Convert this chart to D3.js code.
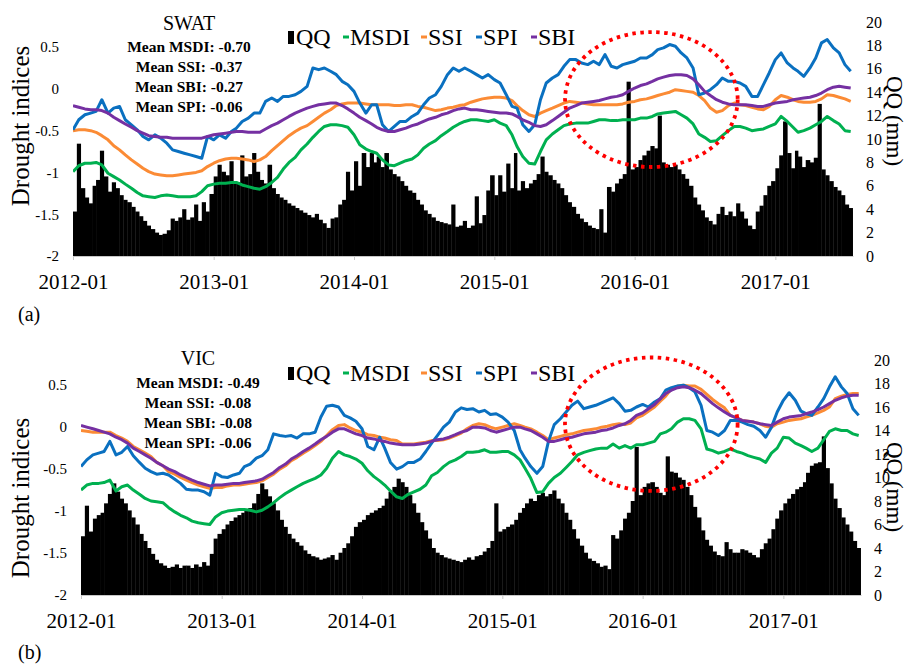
<!DOCTYPE html>
<html>
<head>
<meta charset="utf-8">
<script src="https://cdn.jsdelivr.net/npm/d3@7"></script>
<style>
  body { margin: 0; background: #fff; }
  svg { display: block; }
  text { font-family: "Liberation Serif", "Times New Roman", serif; fill: #000; }
</style>
</head>
<body>
<svg id="chart" width="911" height="665"></svg>
<script>
// ---- sampling dates -------------------------------------------------------
// drought indices: 1st and 16th of each month, Jan 2012 – Jul 2017
const lineDates = d3.range(134).map(i => new Date(2012, Math.floor(i / 2), i % 2 ? 16 : 1));
// discharge (QQ): dekads starting on the 1st, 11th and 21st of each month
const barDates = d3.range(201).map(i => new Date(2012, Math.floor(i / 3), 1 + 10 * (i % 3)));
const startDate = new Date(2012, 0, 1);
const endDate = new Date(2017, 6, 22);

// ---- axis ticks -------------------------------------------------------------
const yearTicks = ["2012-01", "2013-01", "2014-01", "2015-01", "2016-01", "2017-01"];
const indexTicks = [-2, -1.5, -1, -0.5, 0, 0.5];
const qqTicks = [0, 2, 4, 6, 8, 10, 12, 14, 16, 18, 20];

// ---- legend -------------------------------------------------------------------
const seriesNames = ["QQ", "MSDI", "SSI", "SPI", "SBI"];
const seriesColors = ["#000000", "#00B050", "#FB8B35", "#0A70C0", "#7530A2"];

// ---- SWAT ---------------------------------------------------------------------
const swatMeans = ["Mean MSDI: -0.70", "Mean SSI: -0.37", "Mean SBI: -0.27", "Mean SPI: -0.06"];

const swatQQ = [
  3.8, 9.6, 5.8,  5.0, 4.5, 6.0,  6.5, 9.0, 6.8,  5.5, 6.3, 5.8,  5.2, 4.8, 4.6,  4.2, 3.8, 3.4,
  3.0, 2.6, 2.3,  2.0, 1.8, 1.9,  2.2, 3.2, 3.0,  3.3, 4.0, 3.1,  3.3, 4.4, 3.0,  4.6, 3.8, 5.3,
  6.8, 7.8, 7.2,  6.9, 8.1, 6.4,  6.3, 8.6, 6.8,  7.0, 8.8, 7.2,  6.5, 6.2, 7.8,  5.8, 5.3, 5.0,
  4.8, 4.5, 4.3,  4.1, 3.9, 3.7,  3.5, 3.3, 3.6,  3.1, 2.8, 2.4,  3.2, 3.3, 4.4,  4.8, 7.2, 5.6,
  8.1, 6.0, 8.8,  7.6, 8.8, 8.0,  8.5, 7.6, 8.8,  7.4, 7.0, 6.8,  6.4, 6.0, 5.6,  5.4, 4.8, 4.4,
  3.9, 3.6, 3.3,  3.0, 2.9, 2.8,  2.7, 4.4, 2.5,  2.6, 3.0, 2.4,  2.6, 5.1, 2.8,  3.5, 5.6, 6.9,
  5.2, 6.9, 5.5,  7.9, 5.8, 8.8,  5.6, 6.4, 5.8,  6.2, 6.5, 7.0,  8.5, 7.2, 6.9,  6.5, 6.2, 5.8,
  5.2, 4.6, 4.2,  3.6, 3.2, 2.9,  2.6, 2.4, 2.3,  4.0, 2.0, 5.9,  5.5, 6.2, 6.6,  7.0, 14.9, 7.4,
  7.6, 8.2, 8.6,  9.0, 9.4, 9.2,  12.0, 8.0, 7.8, 7.6, 7.8, 7.4,  7.0, 6.6, 6.0,  5.0, 4.4, 3.9,
  3.3, 3.0, 2.7,  3.6, 4.2, 3.5,  3.8, 3.4, 4.5,  3.8, 3.2, 2.6,  2.3, 3.8, 4.3,  5.2, 6.0, 6.4,
  7.5, 8.6, 11.5, 8.8, 7.5, 9.0,  8.5, 7.6, 8.2,  8.0, 8.4, 13.0, 7.4, 6.9, 6.4,  5.9, 5.6, 5.2,
  4.4, 4.1, 3.8
];

const swatMSDI = [
  -0.99, -0.92, -0.89, -0.89, -0.88, -0.91, -1.01, -1.05, -1.09, -1.14,
  -1.19, -1.24, -1.28, -1.29, -1.30, -1.28, -1.27, -1.28, -1.29, -1.29,
  -1.29, -1.28, -1.23, -1.16, -1.14, -1.13, -1.13, -1.12, -1.12, -1.15,
  -1.17, -1.19, -1.20, -1.17, -1.12, -1.06, -0.96, -0.88, -0.82, -0.73,
  -0.66, -0.58, -0.51, -0.45, -0.43, -0.43, -0.44, -0.46, -0.55, -0.67,
  -0.72, -0.75, -0.77, -0.85, -0.91, -0.92, -0.89, -0.86, -0.84, -0.79,
  -0.71, -0.66, -0.62, -0.56, -0.51, -0.46, -0.42, -0.39, -0.37, -0.37,
  -0.38, -0.39, -0.37, -0.41, -0.44, -0.55, -0.69, -0.81, -0.89, -0.90,
  -0.75, -0.61, -0.54, -0.49, -0.44, -0.42, -0.41, -0.41, -0.41, -0.39,
  -0.37, -0.37, -0.38, -0.38, -0.37, -0.37, -0.37, -0.35, -0.35, -0.33,
  -0.30, -0.29, -0.28, -0.27, -0.31, -0.35, -0.42, -0.54, -0.58, -0.63,
  -0.62, -0.56, -0.50, -0.45, -0.45, -0.47, -0.50, -0.49, -0.48, -0.45,
  -0.42, -0.33, -0.39, -0.46, -0.52, -0.50, -0.47, -0.43, -0.39, -0.33,
  -0.38, -0.42, -0.50, -0.51
];

const swatSSI = [
  -0.50, -0.49, -0.49, -0.50, -0.52, -0.56, -0.61, -0.68, -0.73, -0.79,
  -0.85, -0.90, -0.95, -0.99, -1.02, -1.03, -1.04, -1.04, -1.03, -1.02,
  -1.01, -1.00, -0.98, -0.93, -0.89, -0.86, -0.84, -0.83, -0.83, -0.84,
  -0.85, -0.87, -0.85, -0.81, -0.74, -0.68, -0.62, -0.56, -0.51, -0.47,
  -0.44, -0.39, -0.34, -0.29, -0.25, -0.20, -0.18, -0.17, -0.17, -0.17,
  -0.18, -0.19, -0.19, -0.19, -0.19, -0.20, -0.20, -0.19, -0.19, -0.21,
  -0.22, -0.24, -0.26, -0.25, -0.23, -0.22, -0.20, -0.19, -0.16, -0.14,
  -0.12, -0.11, -0.10, -0.10, -0.11, -0.14, -0.20, -0.26, -0.31, -0.33,
  -0.29, -0.26, -0.23, -0.20, -0.17, -0.15, -0.16, -0.17, -0.18, -0.19,
  -0.19, -0.19, -0.19, -0.19, -0.18, -0.16, -0.15, -0.13, -0.12, -0.10,
  -0.08, -0.06, -0.04, -0.01, -0.02, -0.03, -0.04, -0.08, -0.14, -0.23,
  -0.28, -0.26, -0.20, -0.17, -0.19, -0.20, -0.22, -0.24, -0.25, -0.21,
  -0.13, -0.08, -0.10, -0.13, -0.15, -0.16, -0.16, -0.15, -0.12, -0.07,
  -0.08, -0.10, -0.12, -0.15
];

const swatSPI = [
  -0.49, -0.37, -0.31, -0.29, -0.27, -0.13, -0.29, -0.23, -0.21, -0.37,
  -0.43, -0.49, -0.57, -0.61, -0.55, -0.59, -0.65, -0.73, -0.75, -0.77,
  -0.79, -0.81, -0.83, -0.57, -0.61, -0.55, -0.59, -0.51, -0.47, -0.39,
  -0.35, -0.29, -0.29, -0.15, -0.11, -0.15, -0.09, -0.09, -0.07, -0.03,
   0.03,  0.25,  0.23,  0.25,  0.21,  0.17,  0.09,  0.05, -0.03, -0.17,
  -0.29, -0.19, -0.19, -0.43, -0.51, -0.45, -0.39, -0.39, -0.33, -0.29,
  -0.19, -0.11, -0.07,  0.03,  0.17,  0.25,  0.21,  0.25,  0.21,  0.17,
   0.13,  0.17,  0.11,  0.07, -0.07, -0.21, -0.23, -0.43, -0.51, -0.43,
  -0.13,  0.07,  0.13,  0.17,  0.27,  0.35,  0.35,  0.31,  0.29,  0.33,
   0.29,  0.41,  0.27,  0.25,  0.29,  0.31,  0.33,  0.37,  0.37,  0.41,
   0.47,  0.49,  0.53,  0.51,  0.43,  0.37,  0.25, -0.07, -0.05, -0.01,
   0.05,  0.13,  0.09,  0.09,  0.07,  0.03, -0.09, -0.09,  0.05,  0.19,
   0.35,  0.43,  0.31,  0.25,  0.21,  0.15,  0.25,  0.37,  0.55,  0.59,
   0.49,  0.43,  0.29,  0.21
];

const swatSBI = [
  -0.20, -0.22, -0.24, -0.25, -0.25, -0.26, -0.29, -0.34, -0.38, -0.42,
  -0.46, -0.50, -0.53, -0.56, -0.57, -0.58, -0.58, -0.59, -0.59, -0.59,
  -0.59, -0.59, -0.59, -0.57, -0.55, -0.54, -0.53, -0.52, -0.51, -0.51,
  -0.52, -0.52, -0.52, -0.48, -0.44, -0.41, -0.37, -0.33, -0.29, -0.26,
  -0.23, -0.21, -0.19, -0.18, -0.17, -0.17, -0.20, -0.24, -0.29, -0.34,
  -0.38, -0.42, -0.46, -0.49, -0.51, -0.51, -0.49, -0.47, -0.44, -0.42,
  -0.39, -0.36, -0.34, -0.31, -0.29, -0.26, -0.24, -0.23, -0.25, -0.25,
  -0.26, -0.27, -0.28, -0.29, -0.29, -0.30, -0.33, -0.37, -0.40, -0.44,
  -0.45, -0.43, -0.38, -0.33, -0.28, -0.23, -0.20, -0.17, -0.16, -0.15,
  -0.14, -0.12, -0.10, -0.09, -0.07, -0.03,  0.01,  0.04,  0.06,  0.09,
   0.12,  0.14,  0.16,  0.17,  0.17,  0.16,  0.12,  0.05, -0.03, -0.08,
  -0.13, -0.16, -0.18, -0.19, -0.19, -0.19, -0.20, -0.21, -0.21, -0.19,
  -0.17, -0.16, -0.15, -0.13, -0.12, -0.11, -0.10, -0.08, -0.05, -0.01,
   0.02,  0.03,  0.02,  0.01
];

// ---- VIC ----------------------------------------------------------------------
const vicMeans = ["Mean MSDI: -0.49", "Mean SSI: -0.08", "Mean SBI: -0.08", "Mean SPI: -0.06"];

const vicQQ = [
  5.0, 7.6, 5.4,  6.5, 6.8, 7.0,  7.8, 8.6, 9.5,  8.8, 8.2, 7.8,  7.2, 6.6, 6.0,  5.2, 4.6, 4.0,
  3.5, 3.0, 2.7,  2.5, 2.3, 2.4,  2.6, 2.3, 2.5,  2.5, 2.3, 2.6,  2.4, 2.8, 2.5,  3.5, 4.8, 5.2,
  5.6, 6.0, 6.3,  6.6, 6.8, 7.0,  7.2, 7.4, 7.8,  8.6, 9.5, 9.0,  8.4, 7.8, 7.2,  6.4, 5.8, 5.2,
  4.8, 4.5, 4.2,  3.8, 3.5, 3.3,  3.2, 3.0, 3.1,  3.2, 3.4, 3.0,  3.6, 4.0, 4.4,  5.0, 5.8, 6.2,
  6.4, 6.8, 7.0,  7.2, 7.4, 7.6,  8.2, 8.8, 9.2,  9.9, 9.6, 9.2,  8.5, 7.8, 7.0,  6.2, 5.5, 4.8,
  4.0, 3.6, 3.4,  3.2, 3.1, 3.0,  2.9, 2.8, 3.0,  3.2, 3.0, 3.3,  3.4, 3.7, 4.0,  4.6, 7.8, 5.4,
  5.6, 5.8, 6.0,  6.4, 7.0, 7.4,  7.8, 8.2, 8.0,  8.5, 8.7, 8.4,  8.6, 8.9, 8.2,  7.8, 7.0, 6.4,
  5.6, 4.8, 4.2,  3.6, 3.1, 2.9,  2.7, 2.4, 2.5,  2.2, 5.1, 4.8,  5.5, 6.5, 7.0,  8.0, 12.6, 8.5,
  9.2, 9.5, 9.6,  9.2, 8.7, 8.5,  11.8, 10.5, 10.4, 10.0, 9.8, 9.2, 8.5, 7.5, 6.6,  5.5, 4.7, 4.2,
  3.7, 3.4, 3.3,  4.5, 3.9, 3.6,  3.6, 3.9, 3.8,  3.6, 3.4, 3.2,  3.9, 4.4, 4.8,  5.6, 6.5, 7.2,
  7.8, 8.2, 8.6,  9.0, 9.2, 9.6,  10.4, 11.0, 11.2, 11.3, 13.5, 10.8, 9.5, 8.2, 7.4, 6.6, 6.0, 5.4,
  4.6, 4.0, 3.0
];

const vicMSDI = [
  -0.75, -0.69, -0.67, -0.67, -0.66, -0.63, -0.76, -0.71, -0.69, -0.75,
  -0.80, -0.85, -0.88, -0.89, -0.90, -0.96, -1.01, -1.05, -1.08, -1.12,
  -1.14, -1.15, -1.16, -1.07, -1.02, -1.00, -0.99, -0.98, -0.98, -0.99,
  -1.01, -0.99, -0.95, -0.90, -0.84, -0.79, -0.75, -0.71, -0.67, -0.64,
  -0.61, -0.57, -0.49, -0.37, -0.29, -0.33, -0.35, -0.38, -0.43, -0.52,
  -0.59, -0.64, -0.69, -0.76, -0.83, -0.85, -0.80, -0.77, -0.74, -0.69,
  -0.58, -0.54, -0.47, -0.42, -0.39, -0.35, -0.30, -0.30, -0.29, -0.27,
  -0.30, -0.30, -0.29, -0.29, -0.33, -0.39, -0.49, -0.61, -0.78, -0.77,
  -0.67, -0.60, -0.55, -0.48, -0.41, -0.33, -0.30, -0.28, -0.26, -0.25,
  -0.25, -0.20, -0.25, -0.22, -0.25, -0.21, -0.21, -0.19, -0.17, -0.08,
  -0.06, -0.02,  0.06,  0.10,  0.10,  0.08, -0.02, -0.26, -0.28, -0.31,
  -0.29, -0.26, -0.29, -0.31, -0.34, -0.36, -0.38, -0.42, -0.31, -0.25,
  -0.12, -0.13, -0.19, -0.22, -0.25, -0.29, -0.25, -0.15, -0.05, -0.02,
  -0.04, -0.04, -0.08, -0.10
];

const vicSSI = [
  -0.04, -0.05, -0.06, -0.06, -0.06, -0.06, -0.10, -0.13, -0.17, -0.23,
  -0.27, -0.31, -0.35, -0.42, -0.46, -0.53, -0.56, -0.60, -0.63, -0.66,
  -0.69, -0.71, -0.73, -0.72, -0.72, -0.70, -0.69, -0.69, -0.68, -0.67,
  -0.66, -0.64, -0.60, -0.56, -0.50, -0.46, -0.40, -0.36, -0.31, -0.27,
  -0.22, -0.17, -0.10, -0.03,  0.02,  0.03, -0.01, -0.04, -0.06, -0.09,
  -0.10, -0.12, -0.13, -0.15, -0.16, -0.20, -0.20, -0.20, -0.19, -0.18,
  -0.16, -0.16, -0.15, -0.13, -0.10, -0.07, -0.02,  0.02,  0.04,  0.03,
   0.00, -0.02,  0.00,  0.02,  0.04,  0.02,  0.00, -0.02, -0.06, -0.10,
  -0.15, -0.13, -0.11, -0.09, -0.08, -0.06, -0.04, -0.03, -0.02,  0.00,
   0.01,  0.03,  0.04,  0.03,  0.05,  0.11,  0.14,  0.19,  0.24,  0.31,
   0.37,  0.46,  0.49,  0.50,  0.49,  0.49,  0.45,  0.39,  0.33,  0.28,
   0.23,  0.14,  0.11,  0.08,  0.07,  0.06,  0.04,  0.01,  0.00,  0.04,
   0.06,  0.08,  0.09,  0.10,  0.12,  0.14,  0.17,  0.20,  0.24,  0.34,
   0.37,  0.39,  0.40,  0.40
];

const vicSPI = [
  -0.47, -0.39, -0.33, -0.31, -0.29, -0.17, -0.33, -0.30, -0.23, -0.34,
  -0.42, -0.49, -0.53, -0.56, -0.55, -0.57, -0.62, -0.67, -0.74, -0.75,
  -0.75, -0.77, -0.81, -0.55, -0.59, -0.60, -0.57, -0.55, -0.47, -0.44,
  -0.37, -0.34, -0.27, -0.08, -0.10, -0.11, -0.10, -0.13, -0.08, -0.08,
  -0.06,  0.12,  0.25,  0.26,  0.24,  0.14,  0.11,  0.07, -0.02, -0.23,
  -0.27, -0.12, -0.25, -0.42, -0.50, -0.47, -0.42, -0.42, -0.38, -0.29,
  -0.19, -0.10,  0.00,  0.06,  0.18,  0.23,  0.21,  0.22,  0.18,  0.20,
   0.15,  0.16,  0.12,  0.06, -0.04, -0.27, -0.37, -0.47, -0.55, -0.47,
  -0.17,  0.03,  0.10,  0.18,  0.26,  0.31,  0.22,  0.24,  0.26,  0.29,
   0.32,  0.35,  0.28,  0.19,  0.20,  0.24,  0.27,  0.24,  0.30,  0.34,
   0.44,  0.47,  0.49,  0.50,  0.47,  0.42,  0.26, -0.04, -0.06, -0.10,
  -0.04,  0.08,  0.08,  0.06,  0.03,  0.01, -0.04, -0.12,  0.00,  0.18,
   0.32,  0.41,  0.32,  0.19,  0.16,  0.14,  0.24,  0.34,  0.48,  0.60,
   0.48,  0.40,  0.22,  0.14
];

const vicSBI = [
   0.02,  0.00, -0.02, -0.04, -0.06, -0.08, -0.12, -0.15, -0.19, -0.25,
  -0.29, -0.33, -0.37, -0.42, -0.46, -0.50, -0.53, -0.57, -0.60, -0.63,
  -0.66, -0.68, -0.70, -0.69, -0.69, -0.68, -0.67, -0.67, -0.66, -0.65,
  -0.64, -0.62, -0.58, -0.54, -0.48, -0.44, -0.38, -0.34, -0.29, -0.25,
  -0.20, -0.15, -0.11, -0.06, -0.02, -0.02, -0.05, -0.08, -0.10, -0.13,
  -0.14, -0.16, -0.17, -0.19, -0.20, -0.21, -0.21, -0.21, -0.20, -0.19,
  -0.17, -0.15, -0.14, -0.12, -0.09, -0.06, -0.04,  0.00,  0.00, -0.01,
  -0.04, -0.06, -0.04, -0.02,  0.00,  0.00, -0.02, -0.04, -0.08, -0.12,
  -0.17, -0.17, -0.15, -0.13, -0.12, -0.10, -0.08, -0.07, -0.06, -0.04,
  -0.03, -0.01,  0.02,  0.04,  0.08,  0.14,  0.17,  0.22,  0.27,  0.34,
   0.40,  0.44,  0.47,  0.48,  0.47,  0.44,  0.40,  0.34,  0.28,  0.23,
   0.18,  0.14,  0.11,  0.08,  0.07,  0.06,  0.04,  0.03,  0.02,  0.06,
   0.10,  0.12,  0.13,  0.14,  0.16,  0.18,  0.21,  0.24,  0.28,  0.32,
   0.35,  0.37,  0.38,  0.38
];

// highlighted period (dotted ellipse): [start, end] dates and [top, bottom] index values
const swatHighlight = { start: "2015-07-04", end: "2016-09-25", top: 0.68, bottom: -0.935 };
const vicHighlight  = { start: "2015-06-13", end: "2016-09-04", top: 0.83, bottom: -0.76 };

// ---- panel layout -------------------------------------------------------------
const panels = [
  { model: "SWAT", tag: "(a)", means: swatMeans, qq: swatQQ,
    series: [swatMSDI, swatSSI, swatSPI, swatSBI], hl: swatHighlight,
    x0: 73, x1: 853, yTop: 22, yBot: 256,
    titleX: 189, titleY: 30, meanY: 52, legendY: 45, tagY: 321,
    leftTitleY: 126, rightTitleY: 121 },
  { model: "VIC", tag: "(b)", means: vicMeans, qq: vicQQ,
    series: [vicMSDI, vicSSI, vicSPI, vicSBI], hl: vicHighlight,
    x0: 81, x1: 861, yTop: 360, yBot: 595,
    titleX: 198, titleY: 365, meanY: 388, legendY: 381, tagY: 659,
    leftTitleY: 498, rightTitleY: 487 }
];

const svg = d3.select("#chart");
const parseYM = d3.timeParse("%Y-%m");
const parseDay = d3.timeParse("%Y-%m-%d");

// strip d3's default axis font so the page serif face applies
function plainAxis(sel, size) {
  sel.attr("font-family", null).attr("font-size", null);
  sel.selectAll(".tick text").style("font-size", size + "px");
}

panels.forEach((p, pi) => {
  const g = svg.append("g");

  const x = d3.scaleTime().domain([startDate, endDate]).range([p.x0, p.x1]);
  const yL = d3.scaleLinear().domain([-2, 0.8]).range([p.yBot, p.yTop]);
  const yR = d3.scaleLinear().domain([0, 20]).range([p.yBot, p.yTop]);

  const clipId = "plot-clip-" + pi;
  svg.append("clipPath").attr("id", clipId)
    .append("rect").attr("x", p.x0).attr("y", p.yTop - 20)
    .attr("width", p.x1 - p.x0).attr("height", p.yBot - p.yTop + 20);

  // QQ bars on the secondary axis
  g.append("g").attr("clip-path", `url(#${clipId})`)
    .selectAll("rect").data(p.qq).join("rect")
    .attr("x", (d, i) => x(barDates[i]))
    .attr("width", (d, i) => {
      const next = i + 1 < barDates.length ? barDates[i + 1] : d3.timeDay.offset(barDates[i], 11);
      return x(next) - x(barDates[i]) + 0.35;
    })
    .attr("y", d => yR(d))
    .attr("height", d => yR(0) - yR(d))
    .attr("fill", "#000");

  // x axis
  const xAxis = d3.axisBottom(x)
    .tickValues(yearTicks.map(parseYM))
    .tickFormat(d3.timeFormat("%Y-%m"))
    .tickSize(4).tickSizeOuter(0);
  const gx = g.append("g").attr("transform", `translate(0,${p.yBot})`).call(xAxis);
  plainAxis(gx, 21);
  gx.select(".domain").attr("stroke", "#c8c8c8").attr("stroke-width", 1.2);
  gx.selectAll(".tick line").attr("stroke", "#c8c8c8");
  gx.selectAll(".tick text").attr("dy", null).attr("y", 33);

  // left axis (drought indices)
  const gl = g.append("g").attr("transform", `translate(${p.x0},0)`)
    .call(d3.axisLeft(yL).tickValues(indexTicks).tickFormat(d => String(d)).tickSize(0).tickPadding(14));
  plainAxis(gl, 15);
  gl.select(".domain").remove();

  // right axis (QQ)
  const gr = g.append("g").attr("transform", `translate(${p.x1},0)`)
    .call(d3.axisRight(yR).tickValues(qqTicks).tickFormat(d => String(d)).tickSize(0).tickPadding(13));
  plainAxis(gr, 16);
  gr.select(".domain").remove();

  // index lines: MSDI, SSI, SPI, SBI
  const line = d3.line().x((d, i) => x(lineDates[i])).y(d => yL(d));
  const lg = g.append("g").attr("clip-path", `url(#${clipId})`);
  p.series.forEach((vals, si) => {
    lg.append("path").datum(vals)
      .attr("d", line)
      .attr("fill", "none")
      .attr("stroke", seriesColors[si + 1])
      .attr("stroke-width", 3)
      .attr("stroke-linejoin", "round");
  });

  // model name and mean values
  g.append("text").attr("x", p.titleX).attr("y", p.titleY)
    .attr("text-anchor", "middle").style("font-size", "20px").text(p.model);
  g.selectAll("text.mean").data(p.means).join("text").attr("class", "mean")
    .attr("x", p.titleX).attr("y", (d, i) => p.meanY + i * 20)
    .attr("text-anchor", "middle")
    .style("font-size", "15.5px").style("font-weight", "bold")
    .text(d => d);

  // legend
  const legendX = [[288, 296], [343, 350], [421, 428], [476, 483], [531, 538]];
  seriesNames.forEach((name, i) => {
    const [mx, tx] = legendX[i];
    if (i === 0) {
      g.append("rect").attr("x", mx).attr("y", p.legendY - 14)
        .attr("width", 6).attr("height", 13).attr("fill", "#000");
    } else {
      g.append("line").attr("x1", mx).attr("x2", mx + 6)
        .attr("y1", p.legendY - 8).attr("y2", p.legendY - 8)
        .attr("stroke", seriesColors[i]).attr("stroke-width", 3);
    }
    g.append("text").attr("x", tx).attr("y", p.legendY)
      .style("font-size", "24px").text(name);
  });

  // axis titles
  g.append("text")
    .attr("transform", `translate(29,${p.leftTitleY}) rotate(-90)`)
    .attr("text-anchor", "middle").style("font-size", "25px")
    .text("Drought indices");
  g.append("text")
    .attr("transform", `translate(887,${p.rightTitleY}) rotate(90)`)
    .attr("text-anchor", "middle").style("font-size", "23px")
    .text("QQ (mm)");

  // dotted ellipse around the highlighted period
  const hx0 = x(parseDay(p.hl.start)), hx1 = x(parseDay(p.hl.end));
  const hy0 = yL(p.hl.top), hy1 = yL(p.hl.bottom);
  g.append("ellipse")
    .attr("cx", (hx0 + hx1) / 2).attr("cy", (hy0 + hy1) / 2)
    .attr("rx", (hx1 - hx0) / 2).attr("ry", (hy1 - hy0) / 2)
    .attr("fill", "none").attr("stroke", "#ff0000")
    .attr("stroke-width", 3.8).attr("stroke-dasharray", "3.5 4.5");

  // panel tag
  g.append("text").attr("x", 18).attr("y", p.tagY)
    .style("font-size", "20px").text(p.tag);
});
</script>
</body>
</html>
